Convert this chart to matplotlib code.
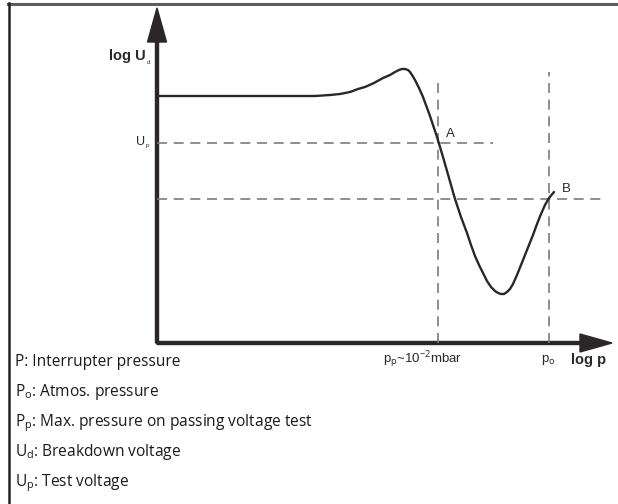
import matplotlib
matplotlib.use("Agg")
import matplotlib.pyplot as plt
from matplotlib.lines import Line2D

plt.rcParams['mathtext.fontset'] = 'custom'
plt.rcParams['mathtext.rm'] = 'Open Sans'
plt.rcParams['mathtext.it'] = 'Open Sans'

# Schematic curve: breakdown voltage vs pressure (chart units, origin at axis crossing)
curve_x = [0, 43, 93, 143, 158, 173, 183, 193, 201, 208, 217, 226, 233, 238, 242, 245,
           248, 251, 253, 255, 258, 262, 266, 273, 280, 286, 292, 298, 304, 310, 314, 318,
           322, 326, 330, 334, 338, 341, 344, 347, 350, 353, 356, 360, 364, 368, 372, 376,
           380, 384, 388, 392, 397]
curve_y = [247, 247, 247, 247, 247, 248, 249, 251, 254, 256, 260, 265, 268, 271, 273, 274,
           274, 273, 271, 268, 263, 255, 246, 227, 206, 186, 165, 144, 126, 110, 98, 87,
           78, 70, 62, 56, 52, 50, 49, 49, 51, 54, 59, 68, 78, 88, 98, 108,
           119, 129, 138, 145, 151]

up_level = 200      # test voltage U_p
b_level = 144       # level of point B
pp_x = 281          # p_p ~ 10^-2 mbar
po_x = 392          # p_o atmospheric
up_line_end = 336
b_line_end = 446
pp_top = 263
po_top = 271

legend_lines = [
    "P: Interrupter pressure",
    "P$_{\\mathrm{o}}$: Atmos. pressure",
    "P$_{\\mathrm{p}}$: Max. pressure on passing voltage test",
    "U$_{\\mathrm{d}}$: Breakdown voltage",
    "U$_{\\mathrm{p}}$: Test voltage",
]

W, H = 618, 504
fig = plt.figure(figsize=(W / 100, H / 100), dpi=100)
fig.patch.set_facecolor('white')

ox, oy = 157, 343
xmax, ymax = 455, 335
ax = fig.add_axes([ox / W, (H - oy) / H, xmax / W, ymax / H])
ax.set_xlim(0, xmax)
ax.set_ylim(0, ymax)
ax.axis('off')

dark = '#2b2728'
gray = '#7d7b7b'
dash = (0, (6, 4))

# dashed guide lines
ax.plot([0, up_line_end], [up_level, up_level], color=gray, lw=1.2, ls=dash, clip_on=False)
ax.plot([0, b_line_end], [b_level, b_level], color=gray, lw=1.2, ls=dash, clip_on=False)
ax.plot([pp_x, pp_x], [0, pp_top], color=gray, lw=1.2, ls=dash, clip_on=False)
ax.plot([po_x, po_x], [0, po_top], color=gray, lw=1.2, ls=dash, clip_on=False)

# curve
ax.plot(curve_x, curve_y, color=dark, lw=1.7, solid_capstyle='round',
        solid_joinstyle='round', clip_on=False)

# axes arrows
ax.arrow(0, 0, 0, ymax, width=3, head_width=19, head_length=34,
         length_includes_head=True, color=dark, clip_on=False)
ax.arrow(0, 0, xmax, 0, width=3, head_width=18, head_length=32,
         length_includes_head=True, color=dark, clip_on=False)

# labels on chart
sans = 'Liberation Sans'
ax.text(-11, 287, "log U", fontsize=10.5, fontweight='bold', family=sans,
        ha='right', va='center', color=dark)
ax.text(-10, 281, "d", fontsize=4.5, family=sans, ha='left', va='center', color=dark)
ax.text(-12, up_level + 1, "U", fontsize=9, family=sans, ha='right', va='center', color=dark)
ax.text(-11.5, up_level - 3, "p", fontsize=4.5, family=sans, ha='left', va='center', color=dark)
ax.text(pp_x + 12, up_level + 9, "A", fontsize=9.5, family=sans, ha='center', va='center', color=dark)
ax.text(po_x + 17, b_level + 10, "B", fontsize=9.5, family=sans, ha='center', va='center', color=dark)
ax.text(305, -17, "p$_\\mathrm{p}$~10$^{\\mathrm{-2}}$mbar", fontsize=9.5, family=sans,
        ha='right', va='center', color=dark)
ax.text(po_x - 1, -17, "p$_\\mathrm{o}$", fontsize=9.5, family=sans, ha='center', va='center', color=dark)
ax.text(432, -17, "log p", fontsize=10.5, fontweight='bold', family=sans,
        ha='center', va='center', color=dark)

# legend text
for i, s in enumerate(legend_lines):
    fig.text(15 / W, 1 - (366 + 30 * i) / H, s, fontsize=11.2, family='Open Sans',
             ha='left', va='baseline', color='#1a1a1a')

# frame
fig.add_artist(Line2D([8 / W, 1], [1 - 3.5 / H, 1 - 3.5 / H], color='#5e5e5e', lw=2.2,
                      transform=fig.transFigure))
fig.add_artist(Line2D([8.5 / W, 8.5 / W], [0, 1 - 3 / H], color='#222222', lw=1.8,
                      transform=fig.transFigure))

fig.savefig('out.png', dpi=100, facecolor='white')
